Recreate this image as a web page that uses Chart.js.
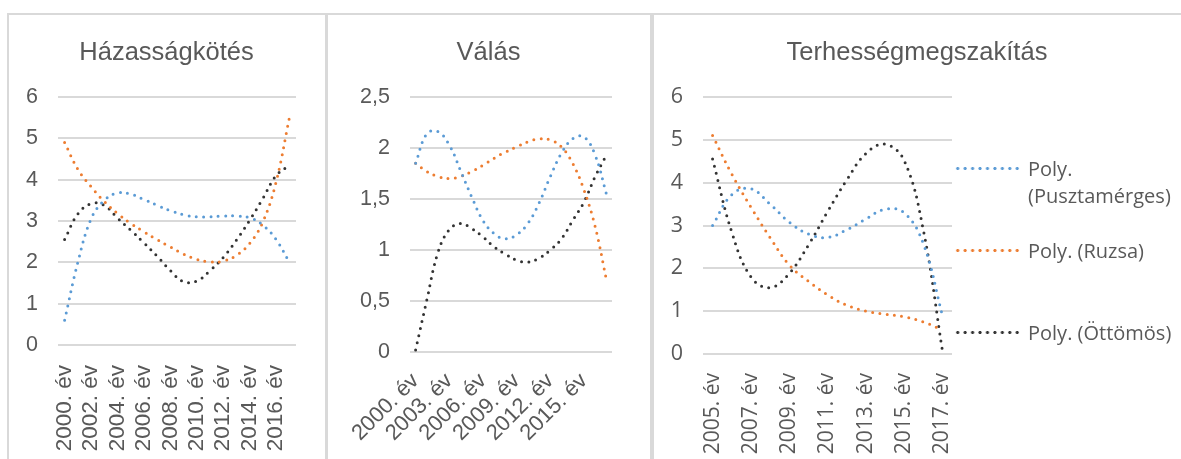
<!DOCTYPE html>
<html>
<head>
<meta charset="utf-8">
<script src="https://cdn.jsdelivr.net/npm/chart.js"></script>
<style>
  body { margin: 0; width: 1181px; height: 459px; overflow: hidden; background: #fff; position: relative; }
  .panel { position: absolute; top: 13px; height: 470px; border: 2px solid #d9d9d9; box-sizing: border-box; }
  canvas { position: absolute; top: 14px; }
  .title { position: absolute; top: 36px; height: 30px; line-height: 30px; text-align: center;
           font-family: "Liberation Sans", Arial, sans-serif; font-size: 25.5px; color: #595959; }
  .lg { position: absolute; left: 1028px; width: 160px; font-family: "Open Sans", sans-serif;
        font-size: 20px; line-height: 27px; color: #595959; }
  .sw { position: absolute; left: 954px; width: 67px; height: 5px; background-repeat: repeat-x; background-size: 7.45px 5px; }
</style>
</head>
<body>
<div class="panel" style="left:7px;width:320px"></div>
<div class="panel" style="left:326px;width:326px"></div>
<div class="panel" style="left:652px;width:560px"></div>

<canvas id="hazChart" width="317" height="445" style="left:8px"></canvas>
<canvas id="valChart" width="323" height="445" style="left:327px"></canvas>
<canvas id="terhChart" width="528" height="445" style="left:653px"></canvas>

<div class="title" style="left:8px;width:317px">Házasságkötés</div>
<div class="title" style="left:327px;width:323px">Válás</div>
<div class="title" style="left:653px;width:528px">Terhességmegszakítás</div>
<div id="legend"></div>

<script>
// categories
const years = ['2000. év', '2001. év', '2002. év', '2003. év', '2004. év', '2005. év', '2006. év', '2007. év', '2008. év',
  '2009. év', '2010. év', '2011. év', '2012. év', '2013. év', '2014. év', '2015. év', '2016. év', '2017. év'];
const terhYears = ['2005. év', '2006. év', '2007. év', '2008. év', '2009. év', '2010. év', '2011. év',
  '2012. év', '2013. év', '2014. év', '2015. év', '2016. év', '2017. év'];

const seriesNames = ['Poly. (Pusztamérges)', 'Poly. (Ruzsa)', 'Poly. (Öttömös)'];
const seriesColors = ['#5b9bd5', '#ed7d31', '#333333'];

// Házasságkötés
const hazPuszta = [0.6, 2.0, 3.05, 3.5, 3.68, 3.65, 3.52, 3.38, 3.25, 3.15, 3.1, 3.1, 3.12, 3.12, 3.08, 2.9, 2.55, 2.0];
const hazRuzsa = [4.9, 4.25, 3.83, 3.47, 3.18, 2.94, 2.74, 2.55, 2.37, 2.2, 2.07, 2.01, 2.03, 2.17, 2.46, 2.98, 3.95, 5.5];
const hazOtt = [2.55, 3.17, 3.42, 3.38, 3.07, 2.78, 2.47, 2.15, 1.8, 1.53, 1.55, 1.8, 2.12, 2.54, 3.02, 3.55, 4.1, 4.35];

// Válás
const valPuszta = [1.85, 2.14, 2.16, 2.03, 1.78, 1.52, 1.29, 1.16, 1.11, 1.15, 1.26, 1.46, 1.72, 1.95, 2.09, 2.11, 1.93, 1.55];
const valRuzsa = [1.85, 1.77, 1.72, 1.70, 1.72, 1.77, 1.83, 1.90, 1.96, 2.01, 2.06, 2.09, 2.08, 2.01, 1.85, 1.59, 1.23, 0.71];
const valOtt = [0.02, 0.51, 0.98, 1.2, 1.26, 1.21, 1.13, 1.03, 0.96, 0.9, 0.88, 0.92, 1.0, 1.11, 1.29, 1.47, 1.72, 1.93];

// Terhességmegszakítás
const terhPuszta = [3.0, 3.72, 3.86, 3.5, 3.08, 2.8, 2.72, 2.9, 3.15, 3.38, 3.3, 2.58, 0.9];
const terhRuzsa = [5.1, 4.2, 3.43, 2.72, 2.08, 1.7, 1.38, 1.14, 1.0, 0.93, 0.87, 0.75, 0.56];
const terhOtt = [4.55, 2.85, 1.8, 1.55, 1.88, 2.54, 3.32, 4.06, 4.68, 4.9, 4.52, 2.9, 0.08];

function makeSets(values) {
  return values.map((v, i) => ({
    label: seriesNames[i],
    data: v,
    borderColor: seriesColors[i],
    borderWidth: 3,
    borderDash: [0, 7.3],
    borderCapStyle: 'round',
    pointRadius: 0,
    tension: 0.4,
    fill: false
  }));
}

function makeConfig(labels, values, opts) {
  return {
    type: 'line',
    data: { labels: labels, datasets: makeSets(values) },
    options: {
      responsive: false,
      animation: false,
      devicePixelRatio: 1,
      layout: { padding: { top: 83, right: opts.right, left: 0, bottom: 0 } },
      plugins: { legend: { display: false }, tooltip: { enabled: false } },
      scales: {
        x: {
          offset: true,
          grid: { display: false },
          border: { display: false },
          afterFit: s => { s.height = opts.xh; },
          ticks: {
            autoSkip: false,
            minRotation: opts.rot, maxRotation: opts.rot,
            padding: opts.xpad,
            color: '#595959',
            font: { family: opts.family, size: opts.xsize },
            callback: function (v, i) { return i % opts.every === 0 ? this.getLabelForValue(v) : null; }
          }
        },
        y: {
          min: 0, max: opts.max,
          afterFit: s => { s.width = opts.yw; },
          grid: { color: '#d9d9d9', lineWidth: 2, drawTicks: false },
          border: { display: false },
          ticks: {
            stepSize: opts.step,
            padding: 20,
            color: '#595959',
            font: { family: opts.family, size: 21.5 },
            callback: v => String(v).replace('.', ',')
          }
        }
      }
    }
  };
}

const hazChart = new Chart(document.getElementById('hazChart'),
  makeConfig(years, [hazPuszta, hazRuzsa, hazOtt],
    { family: 'Liberation Sans', right: 29, xh: 114, yw: 50, rot: 90, xpad: 12, xsize: 22.5, every: 2, max: 6, step: 1 }));

const valChart = new Chart(document.getElementById('valChart'),
  makeConfig(years, [valPuszta, valRuzsa, valOtt],
    { family: 'Liberation Sans', right: 38, xh: 107, yw: 83, rot: 45, xpad: 8, xsize: 22, every: 3, max: 2.5, step: 0.5 }));

const terhChart = new Chart(document.getElementById('terhChart'),
  makeConfig(terhYears, [terhPuszta, terhRuzsa, terhOtt],
    { family: 'Open Sans', right: 229, xh: 105, yw: 50, rot: 90, xpad: 11, xsize: 21, every: 2, max: 6, step: 1 }));

// legend beside the third chart
const legendY = [168, 250, 332];
const legend = document.getElementById('legend');
terhChart.data.datasets.forEach((ds, i) => {
  const sw = document.createElement('div');
  sw.className = 'sw';
  sw.style.top = (legendY[i] - 2.5) + 'px';
  sw.style.backgroundImage = 'radial-gradient(circle, ' + ds.borderColor + ' 1.2px, rgba(255,255,255,0) 1.9px)';
  legend.appendChild(sw);
  const tx = document.createElement('div');
  tx.className = 'lg';
  tx.style.top = (legendY[i] - 13.5) + 'px';
  tx.textContent = ds.label;
  legend.appendChild(tx);
});
</script>
</body>
</html>
